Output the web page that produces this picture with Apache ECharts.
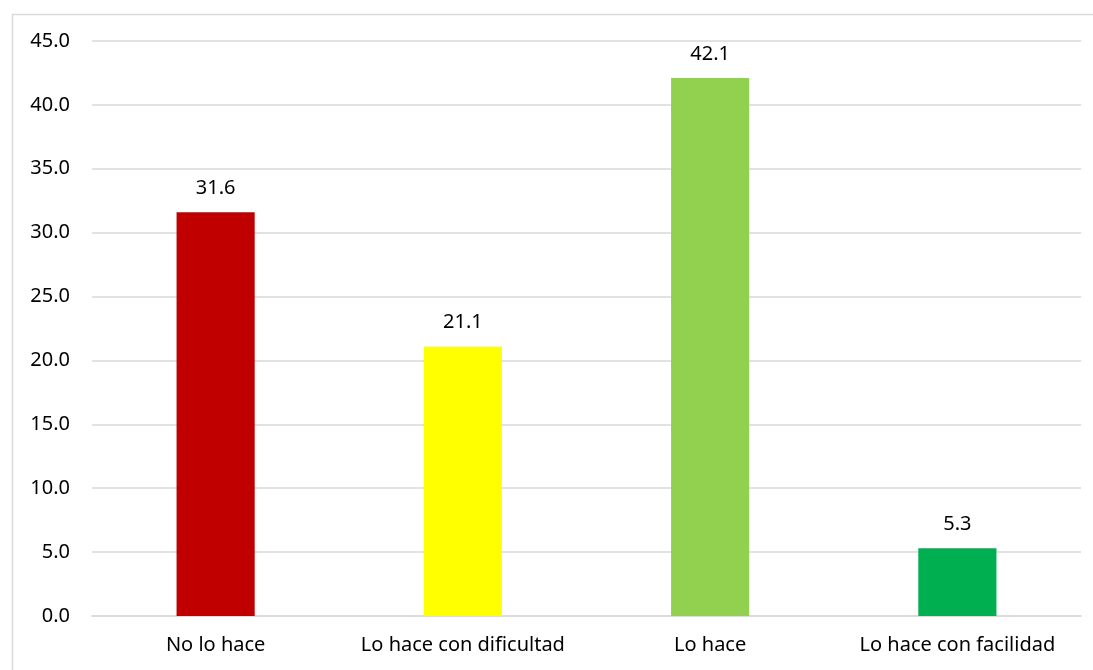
<!DOCTYPE html>
<html><head><meta charset="utf-8">
<script src="https://cdn.jsdelivr.net/npm/echarts@6/dist/echarts.min.js"></script>
<style>html,body{margin:0;padding:0;background:#fff;}#c{width:1093px;height:670px;}</style>
</head><body><div id="c"></div>
<script>
const categories = ['No lo hace', 'Lo hace con dificultad', 'Lo hace', 'Lo hace con facilidad'];
const values = [31.6, 21.1, 42.1, 5.3];
const barColors = ['#C00000', '#FFFF00', '#92D050', '#00B050'];
const yTicks = {min: 0, max: 45, interval: 5};

const chart = echarts.init(document.getElementById('c'));
const font = '"Noto Sans", "Open Sans", sans-serif';
chart.setOption({
  animation: false,
  graphic: [{type: 'rect', left: 10, top: 12, shape: {width: 1100, height: 700}, style: {fill: 'none', stroke: '#d9d9d9', lineWidth: 1.5}, z: -1}],
  grid: {left: 92, right: 12, top: 41, bottom: 54, containLabel: false},
  xAxis: {
    type: 'category', data: categories,
    axisLine: {lineStyle: {color: '#d9d9d9', width: 1.5}},
    axisTick: {show: false},
    axisLabel: {color: '#000', fontSize: 20, fontFamily: font, margin: 19, interval: 0, hideOverlap: false}
  },
  yAxis: {
    type: 'value', min: yTicks.min, max: yTicks.max, interval: yTicks.interval,
    axisLine: {show: false}, axisTick: {show: false},
    splitLine: {lineStyle: {color: '#d9d9d9', width: 1.5}},
    axisLabel: {color: '#000', fontSize: 20, fontFamily: font, margin: 22, formatter: v => v.toFixed(1)}
  },
  series: [{
    type: 'bar', barWidth: '31.6%',
    data: values.map((v, i) => ({value: v, itemStyle: {color: barColors[i]}})),
    label: {show: true, position: 'top', distance: 14, color: '#000', fontSize: 20, fontFamily: font, formatter: p => p.value.toFixed(1)}
  }]
});
</script></body></html>
